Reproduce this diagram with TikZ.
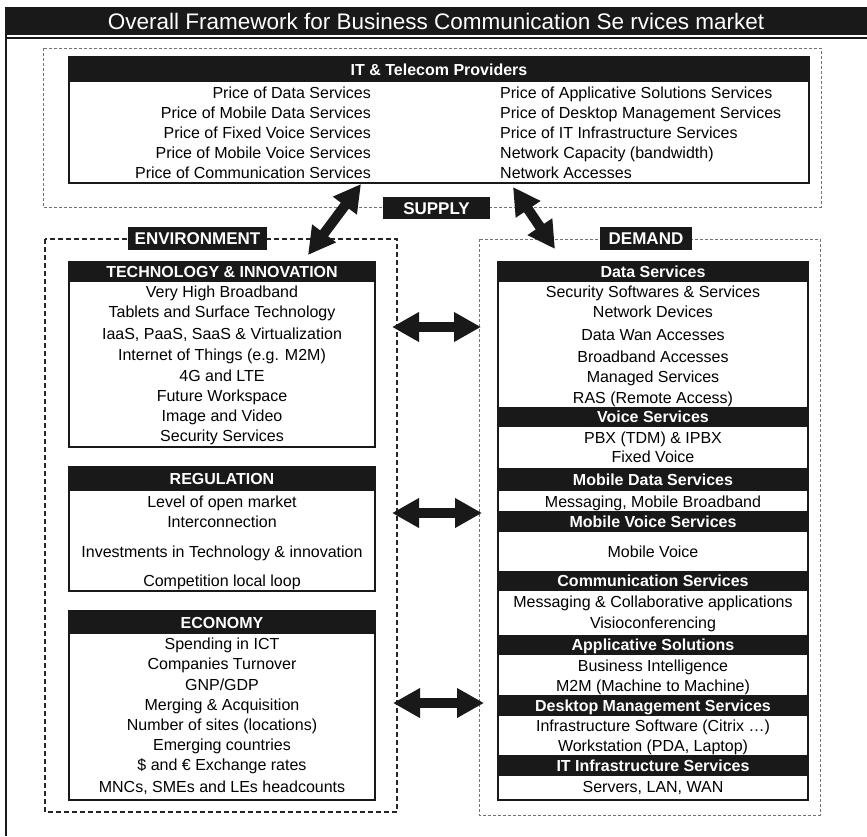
\documentclass[tikz,border=0pt]{standalone}
\usepackage{fontspec}
\setmainfont{Liberation Sans}
\usetikzlibrary{arrows.meta}
\begin{document}
\begin{tikzpicture}[x=1pt,y=-1pt,
  txt/.style={inner sep=0pt, text height=11.5pt, text depth=0pt, font=\fontsize{16}{19}\selectfont},
  hdr/.style={fill=black!90, text=white, inner sep=0pt, text height=11.5pt, text depth=0pt, font=\bfseries\fontsize{16}{19}\selectfont},
  lbl/.style={fill=black!90, text=white, inner sep=0pt, text height=12.5pt, text depth=0pt, font=\bfseries\fontsize{17}{20}\selectfont},
  boxline/.style={draw=black!90, line width=1.8pt},
  gdash/.style={draw=black!55, line width=0.9pt, dash pattern=on 3pt off 2pt},
  kdash/.style={draw=black!85, line width=1.4pt, dash pattern=on 5pt off 3pt},
  bigarr/.style={draw=black!90, line width=10pt, {Triangle[length=27pt,width=28pt]}-{Triangle[length=27pt,width=28pt]}},
]
\useasboundingbox (0,0) rectangle (867,836);

% outer frame
\node[fill=black!90, text=white, inner sep=0pt, minimum width=862pt, minimum height=28pt,
      text height=16pt, text depth=0pt, font=\fontsize{22.5}{26}\selectfont] (title) at (436,21)
      {Overall Framework for Business Communication Se rvices market};
\draw[black!90, line width=2pt] (5,37.5) -- (867,37.5);
\draw[black!90, line width=2pt] (5.8,7) -- (5.8,836);

% dashed regions
\draw[gdash] (43,48) rectangle (821,207);
\draw[kdash] (45,239) rectangle (397,812);
\draw[gdash] (479,239) rectangle (820,815);

% IT & Telecom providers
\draw[boxline] (69,57) rectangle (809,183);
\node[hdr, minimum width=740pt, minimum height=25pt] (ith) at (439,69.5) {IT \& Telecom Providers};
\foreach \y/\t [count=\i] in {93/Price of Data Services, 113/Price of Mobile Data Services,
  133/Price of Fixed Voice Services, 153/Price of Mobile Voice Services, 173/Price of Communication Services}
  \node[txt, anchor=east] (itl\i) at (371,\y) {\t};
\foreach \y/\t [count=\i] in {93/Price of Applicative Solutions Services, 113/Price of Desktop Management Services,
  133/Price of IT Infrastructure Services, 153/Network Capacity (bandwidth), 173/Network Accesses}
  \node[txt, anchor=west] (itr\i) at (500,\y) {\t};

% Technology & innovation
\draw[boxline] (69,262) rectangle (375,447);
\node[hdr, minimum width=306pt, minimum height=20pt] (techh) at (222,272) {TECHNOLOGY \& INNOVATION};
\foreach \y/\t [count=\i] in {292/Very High Broadband, 312/Tablets and Surface Technology,
  334/{IaaS, PaaS, SaaS \& Virtualization}, 355/Internet of Things (e.g. M2M), 376/4G and LTE,
  396/Future Workspace, 416/Image and Video, 436/Security Services}
  \node[txt] (tech\i) at (222,\y) {\t};

% Regulation
\draw[boxline] (69,467) rectangle (375,591);
\node[hdr, minimum width=306pt, minimum height=24pt] (regh) at (222,479) {REGULATION};
\foreach \y/\t [count=\i] in {502/Level of open market, 522/Interconnection,
  552/Investments in Technology \& innovation, 581/Competition local loop}
  \node[txt] (reg\i) at (222,\y) {\t};

% Economy
\draw[boxline] (69,611) rectangle (375,800);
\node[hdr, minimum width=306pt, minimum height=23pt] (ecoh) at (222,622.5) {ECONOMY};
\foreach \y/\t [count=\i] in {644/Spending in ICT, 664/Companies Turnover, 685/{GNP/GDP},
  705/Merging \& Acquisition, 725/Number of sites (locations), 745/Emerging countries,
  765/\$ and € Exchange rates, 787/{MNCs, SMEs and LEs headcounts}}
  \node[txt] (eco\i) at (222,\y) {\t};

% Demand stack
\draw[boxline] (498,262) rectangle (808,800);
\foreach \y/\h/\t [count=\i] in {272/20/Data Services, 417/20/Voice Services,
  479.5/23/Mobile Data Services, 521.5/21/Mobile Voice Services, 581/20/Communication Services,
  645/20/Applicative Solutions, 705.5/21/Desktop Management Services, 765.5/21/IT Infrastructure Services}
  \node[hdr, minimum width=310pt, minimum height=\h pt] (dh\i) at (653,\y) {\t};
\foreach \y/\t [count=\i] in {292/Security Softwares \& Services, 312/Network Devices,
  335/Data Wan Accesses, 357/Broadband Accesses, 377/Managed Services, 398/RAS (Remote Access),
  438/PBX (TDM) \& IPBX, 457/Fixed Voice, 502/{Messaging, Mobile Broadband}, 552/Mobile Voice,
  602/Messaging \& Collaborative applications, 623/Visioconferencing,
  666/Business Intelligence, 686/M2M (Machine to Machine),
  726/Infrastructure Software (Citrix …), 746/{Workstation (PDA, Laptop)}, 787/{Servers, LAN, WAN}}
  \node[txt] (dem\i) at (653,\y) {\t};

% labels
\node[lbl, minimum width=107pt, minimum height=22pt] (supply) at (436.5,208) {SUPPLY};
\node[lbl, minimum width=139pt, minimum height=23pt] (envl) at (197.5,238.5) {ENVIRONMENT};
\node[lbl, minimum width=92pt, minimum height=23pt] (deml) at (646,238.5) {DEMAND};

% arrow ends
\coordinate (s1a) at (361,184);
\coordinate (s1b) at (308,255);
\coordinate (s2a) at (513,187);
\coordinate (s2b) at (555,249);
\coordinate (t1) at (392,327);
\coordinate (t2) at (481,327);
\coordinate (r1) at (392,513);
\coordinate (r2) at (482,513);
\coordinate (e1) at (393,703);
\coordinate (e2) at (484,703);

\draw[bigarr] (s1a) -- (s1b);
\draw[bigarr] (s2a) -- (s2b);
\draw[bigarr] (t1) -- (t2);
\draw[bigarr] (r1) -- (r2);
\draw[bigarr] (e1) -- (e2);
\end{tikzpicture}
\end{document}
